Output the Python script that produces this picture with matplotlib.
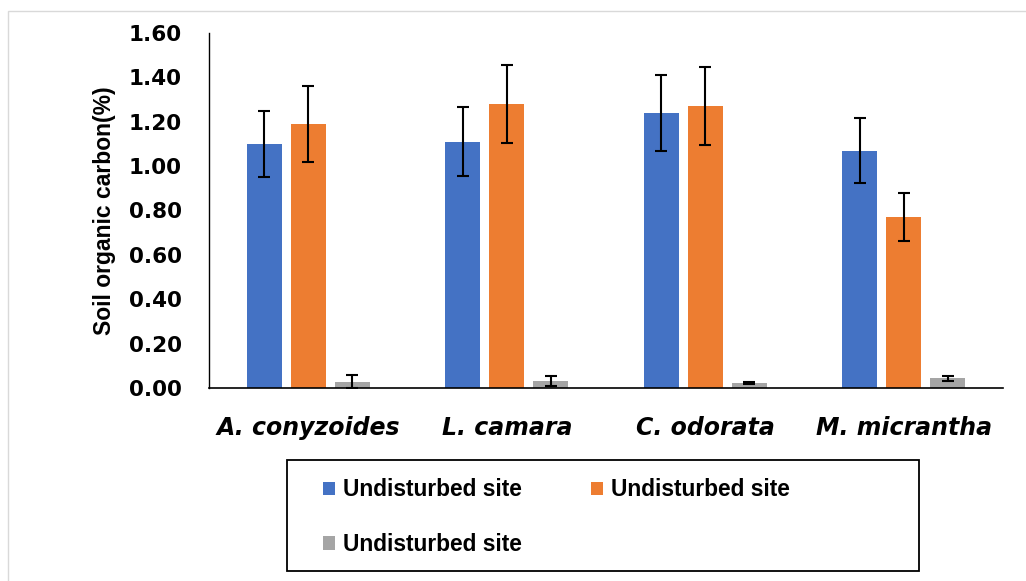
import numpy as np
import matplotlib.pyplot as plt
from matplotlib.patches import Rectangle

plt.rcParams['font.family'] = ['Liberation Sans', 'DejaVu Sans']

species = ["A. conyzoides", "L. camara", "C. odorata", "M. micrantha"]
series_names = ["Undisturbed site", "Undisturbed site", "Undisturbed site"]
blue_vals = [1.10, 1.11, 1.24, 1.07]
blue_err = [0.15, 0.155, 0.17, 0.146]
orange_vals = [1.19, 1.28, 1.27, 0.77]
orange_err = [0.17, 0.177, 0.175, 0.107]
gray_vals = [0.028, 0.032, 0.022, 0.044]
gray_err = [0.03, 0.022, 0.003, 0.011]

colors = ["#4472C4", "#ED7D31", "#A5A5A5"]

fig = plt.figure(figsize=(10.26, 5.81), dpi=100)
ax = fig.add_axes([0.2037, 0.3322, 0.774, 0.611])

x = np.arange(len(species))
w = 0.176
off = 0.222
bars = []
for i, (vals, errs) in enumerate([(blue_vals, blue_err), (orange_vals, orange_err), (gray_vals, gray_err)]):
    b = ax.bar(x + (i - 1) * off, vals, w, color=colors[i], label=series_names[i],
               yerr=errs, capsize=4.5, error_kw=dict(elinewidth=1.5, capthick=1.5, ecolor="black"))
    bars.append(b)

ax.set_xlim(-0.5, 3.5)
ax.set_ylim(0, 1.6)
yt = np.arange(0, 1.61, 0.2)
ax.set_yticks(yt)
ax.set_yticklabels([f"{v:.2f}" for v in yt], fontsize=15.5, fontweight="bold", family="DejaVu Sans")
ax.set_xticks(x)
ax.set_xticklabels(species, fontsize=17, fontweight="bold", style="italic", family="DejaVu Sans")
ax.tick_params(axis="y", length=0, pad=19.5)
ax.tick_params(axis="x", length=0, pad=20)
ax.set_ylabel("Soil organic carbon(%)", fontsize=16.5, fontweight="bold")
ax.yaxis.set_label_coords(-0.117, 0.5)
ax.spines["top"].set_visible(False)
ax.spines["right"].set_visible(False)
ax.spines["left"].set_linewidth(1.0)
ax.spines["bottom"].set_linewidth(1.2)

# legend: blue, orange on first row, gray on second
leg = fig.legend([bars[0], bars[2], bars[1]], [series_names[0], series_names[2], series_names[1]],
                 loc="upper left", bbox_to_anchor=(0.3148, 0.1765), ncol=2, frameon=False,
                 prop=dict(size=16.4, weight="bold"), handlelength=0.54, handleheight=0.54,
                 handletextpad=0.36, columnspacing=3.0, labelspacing=1.4, borderpad=0, borderaxespad=0)

fig.patches.append(Rectangle((287 / 1026, 10 / 581), 632 / 1026, 111 / 581,
                             transform=fig.transFigure, fill=False, edgecolor="black", linewidth=1.3))
fig.patches.append(Rectangle((8 / 1026, -0.05), 1.1, (581 - 11) / 581 + 0.05,
                             transform=fig.transFigure, fill=False, edgecolor="#D9D9D9", linewidth=1))

fig.savefig("out.png", dpi=100)
